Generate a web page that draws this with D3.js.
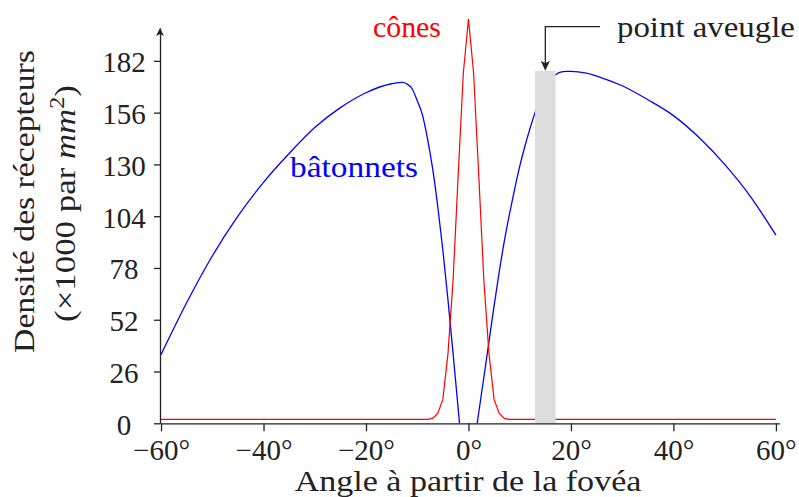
<!DOCTYPE html>
<html>
<head>
<meta charset="utf-8">
<script src="https://cdn.jsdelivr.net/npm/d3@7"></script>
<style>
  body { margin: 0; background: #fff; }
  text { font-family: "Liberation Serif", "Times New Roman", serif; }
</style>
</head>
<body>
<svg id="chart"></svg>
<script>
// Tick labels
const angleTicks = [-60, -40, -20, 0, 20, 40, 60];
const densityTicks = [0, 26, 52, 78, 104, 130, 156, 182];

// Cones (red)
const coneAngles = [-60, -8, -7, -6, -5, -4, -3, -2, -1, 0, 1, 2, 3, 4, 5, 6, 7, 8, 60];
const coneValues = [2, 2, 2.5, 5, 12, 35, 72, 125, 176, 203, 176, 125, 72, 35, 12, 5, 2.5, 2, 2];

// Rods (blue), left and right of the fovea
const rodLeftAngles = [-60, -55, -50, -45, -40, -35, -30, -25, -20, -15, -13, -12, -11, -10, -9, -8, -7, -6, -5, -4, -3, -2, -1.75];
const rodLeftValues = [34.5, 60.5, 84, 104, 121, 135.5, 148.5, 158.5, 166, 170.5, 171.2, 170.4, 168, 162, 155, 143, 128, 109, 87, 62, 35, 7, 0];
const rodRightAngles = [1.7, 2, 3, 4, 5, 6, 7, 8, 9, 10, 11, 12, 13, 14, 15, 16, 17, 18, 19, 20, 23, 26, 30, 35, 40, 45, 50, 55, 60];
const rodRightValues = [0, 5.3, 23, 41, 59, 76, 91.5, 105, 117.5, 129, 139, 148, 156, 163, 168.5, 172.5, 175, 176.3, 176.7, 176.7, 175.8, 173.5, 169.5, 162.5, 154.5, 143.5, 130, 114, 94.5];

// Blind spot
const blindSpot = [13, 17];
const blindSpotTop = 177;

const width = 799, height = 497;
const svg = d3.select("#chart").attr("width", width).attr("height", height);

const x = d3.scaleLinear().domain([-60.2, 60.7]).range([160, 779.5]);
const y = d3.scaleLinear().domain([0, 198.5]).range([423.3, 28]);

const line = d3.line().x(d => x(d[0])).y(d => y(d[1]));
const zip = (a, b) => a.map((v, i) => [v, b[i]]);

// stretch a text horizontally to a target width (serif fallback is narrower than CM)
function stretch(sel, w) {
  const bw = sel.node().getBBox().width;
  sel.attr("transform", `scale(${w / bw},1)`);
}

// Rods
[zip(rodLeftAngles, rodLeftValues), zip(rodRightAngles, rodRightValues)].forEach(pts => {
  svg.append("path")
     .datum(pts)
     .attr("fill", "none")
     .attr("stroke", "#0000ff")
     .attr("stroke-width", 1.3)
     .attr("d", line.curve(d3.curveMonotoneX));
});

// Cones
svg.append("path")
   .datum(zip(coneAngles, coneValues))
   .attr("fill", "none")
   .attr("stroke", "#ff0000")
   .attr("stroke-width", 1.2)
   .attr("d", line.curve(d3.curveLinear));

// Blind spot band
svg.append("rect")
   .attr("x", x(blindSpot[0]))
   .attr("width", x(blindSpot[1]) - x(blindSpot[0]))
   .attr("y", y(blindSpotTop))
   .attr("height", y(0) - y(blindSpotTop))
   .attr("fill", "#dcdcdc");

// X axis
const xAxis = svg.append("g")
   .attr("transform", `translate(0,${y(0)})`)
   .call(d3.axisBottom(x)
     .tickValues(angleTicks)
     .tickSize(8)
     .tickSizeOuter(0)
     .tickPadding(8)
     .tickFormat(d => (d < 0 ? "\u2212" : "") + Math.abs(d) + "°"));

// Y axis
const yAxis = svg.append("g")
   .attr("transform", `translate(${x(-60.2)},0)`)
   .call(d3.axisLeft(y)
     .tickValues(densityTicks)
     .tickSize(6)
     .tickSizeOuter(0));

// y tick labels are centred in a column, not right-aligned
yAxis.selectAll(".tick text")
   .attr("text-anchor", "middle")
   .attr("x", -36)
   .attr("dy", "0.38em");

[xAxis, yAxis].forEach(g => {
  g.attr("color", "#222").attr("font-size", 29).attr("font-family", null);
  g.selectAll("path, line").attr("stroke-width", 1.3);
});

// arrow head on the y axis
const yTop = y.range()[1];
const ax0 = x.range()[0];
svg.append("path")
   .attr("d", `M${ax0},${yTop} L${ax0 - 4},${yTop + 8} L${ax0},${yTop + 6} L${ax0 + 4},${yTop + 8} Z`)
   .attr("fill", "#222");

// Axis titles
const yt1 = svg.append("g").attr("transform", "translate(34,201.5) rotate(-90)")
   .append("text").attr("text-anchor", "middle").attr("font-size", 29).attr("fill", "#222")
   .text("Densité des récepteurs");
stretch(yt1, 303);

const yt2 = svg.append("g").attr("transform", "translate(75,203.5) rotate(-90)")
   .append("text").attr("text-anchor", "middle").attr("font-size", 29).attr("fill", "#222");
yt2.append("tspan").text("(×1000 par ");
yt2.append("tspan").attr("font-style", "italic").text("mm");
yt2.append("tspan").attr("font-size", 20).attr("dy", -11).text("2");
yt2.append("tspan").attr("dy", 11).text(")");
stretch(yt2, 237);

const xt = svg.append("g").attr("transform", "translate(468,491)")
   .append("text").attr("text-anchor", "middle").attr("font-size", 29).attr("fill", "#222")
   .text("Angle à partir de la fovéa");
stretch(xt, 347);

// Series labels
const rl = svg.append("g").attr("transform", "translate(354,177)")
   .append("text").attr("text-anchor", "middle").attr("font-size", 29).attr("fill", "#0000ff")
   .text("bâtonnets");
stretch(rl, 128);

const cl = svg.append("g").attr("transform", "translate(407,36.7)")
   .append("text").attr("text-anchor", "middle").attr("font-size", 29).attr("fill", "#ff0000")
   .text("cônes");
stretch(cl, 68);

// Blind spot annotation
const bx = x((blindSpot[0] + blindSpot[1]) / 2);
const by = y(blindSpotTop);
svg.append("path")
   .attr("d", `M600,26.7 H${bx} V${by - 6}`)
   .attr("fill", "none")
   .attr("stroke", "#222")
   .attr("stroke-width", 1.3);
svg.append("path")
   .attr("d", `M${bx},${by} L${bx - 4.6},${by - 10} L${bx},${by - 7.5} L${bx + 4.6},${by - 10} Z`)
   .attr("fill", "#222");

const pa = svg.append("g").attr("transform", "translate(617,36.7)")
   .append("text").attr("font-size", 29).attr("fill", "#222")
   .text("point aveugle");
stretch(pa, 178);
</script>
</body>
</html>
